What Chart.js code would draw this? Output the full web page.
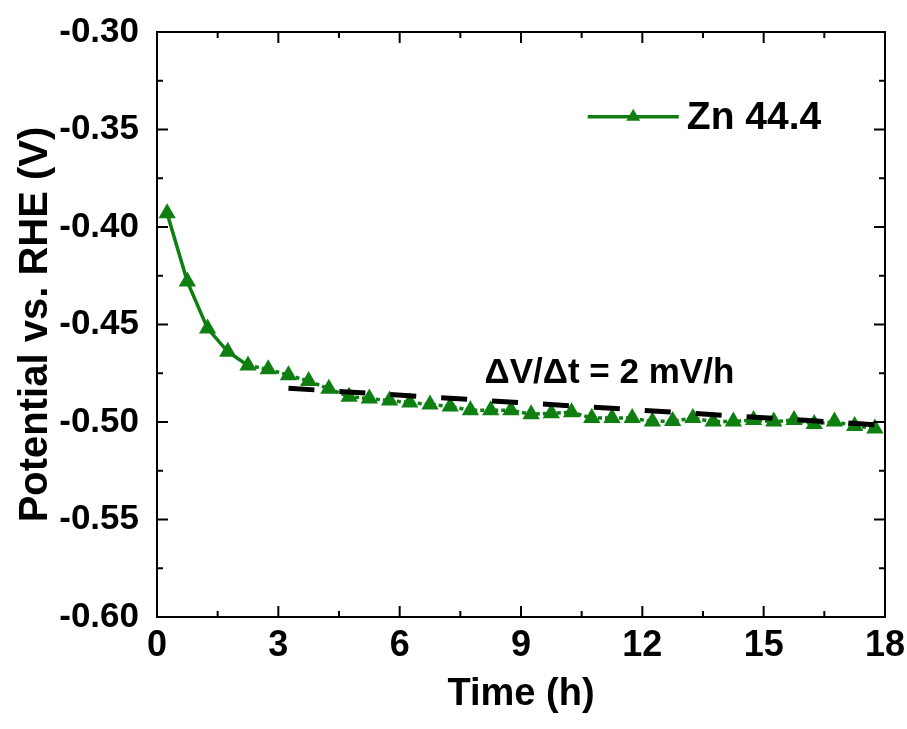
<!DOCTYPE html>
<html lang="en">
<head>
<meta charset="UTF-8">
<title>Potential vs. time</title>
<style>
  html, body { margin: 0; padding: 0; background: #fff; }
  #wrap { width: 907px; height: 729px; }
</style>
</head>
<body>
<div id="wrap"><canvas id="chart" width="907" height="729"></canvas></div>
<script src="https://cdn.jsdelivr.net/npm/chart.js"></script>
<script>
// time (h) of each measured point
const timeH = [0.25, 0.75, 1.25, 1.75, 2.25, 2.75, 3.25, 3.75, 4.25, 4.75, 5.25, 5.75,
  6.25, 6.75, 7.25, 7.75, 8.25, 8.75, 9.25, 9.75, 10.25, 10.75, 11.25, 11.75,
  12.25, 12.75, 13.25, 13.75, 14.25, 14.75, 15.25, 15.75, 16.25, 16.75, 17.25, 17.75];
// potential vs RHE (V), Zn 44.4
const potentialV = [-0.393, -0.428, -0.452, -0.464, -0.471, -0.473, -0.476, -0.479, -0.483, -0.487,
  -0.488, -0.489, -0.490, -0.491, -0.492, -0.494, -0.494, -0.494, -0.496, -0.4955,
  -0.495, -0.498, -0.498, -0.498, -0.4998, -0.4995, -0.498, -0.4998, -0.4998, -0.499,
  -0.4998, -0.499, -0.501, -0.4998, -0.502, -0.5033];
// linear fit, start and end
const fitT = [3.25, 17.85];
const fitV = [-0.4827, -0.5015];

const xTicks = [0, 3, 6, 9, 12, 15, 18];
const yTicks = [-0.60, -0.55, -0.50, -0.45, -0.40, -0.35, -0.30];

const green = '#0f7f12';
const boldFont = '"Liberation Sans", Arial, sans-serif';

// 枠と内向き目盛り
const framePlugin = {
  id: 'frame',
  afterDraw(chart) {
    const { ctx, chartArea: a, scales: { x, y } } = chart;
    ctx.save();
    ctx.strokeStyle = '#000';
    ctx.lineWidth = 2;
    ctx.strokeRect(a.left, a.top, a.right - a.left, a.bottom - a.top);
    ctx.beginPath();
    for (let i = 0; i < xTicks.length; i++) {
      const px = x.getPixelForValue(xTicks[i]);
      ctx.moveTo(px, a.bottom); ctx.lineTo(px, a.bottom - 11);
      ctx.moveTo(px, a.top); ctx.lineTo(px, a.top + 11);
      if (i < xTicks.length - 1) {
        const mx = x.getPixelForValue(xTicks[i] + 1.5);
        ctx.moveTo(mx, a.bottom); ctx.lineTo(mx, a.bottom - 6);
        ctx.moveTo(mx, a.top); ctx.lineTo(mx, a.top + 6);
      }
    }
    for (let i = 0; i < yTicks.length; i++) {
      const py = y.getPixelForValue(yTicks[i]);
      ctx.moveTo(a.left, py); ctx.lineTo(a.left + 11, py);
      ctx.moveTo(a.right, py); ctx.lineTo(a.right - 11, py);
      if (i < yTicks.length - 1) {
        const my = y.getPixelForValue(yTicks[i] + 0.025);
        ctx.moveTo(a.left, my); ctx.lineTo(a.left + 6, my);
        ctx.moveTo(a.right, my); ctx.lineTo(a.right - 6, my);
      }
    }
    ctx.stroke();

    // 注釈
    ctx.fillStyle = '#000';
    ctx.font = 'bold 35px ' + boldFont;
    ctx.textBaseline = 'middle';
    ctx.textAlign = 'left';
    ctx.fillText('\u0394V/\u0394t = 2 mV/h', x.getPixelForValue(8.1), y.getPixelForValue(-0.4752));

    // 凡例
    const ly = y.getPixelForValue(-0.3435);
    const lx0 = x.getPixelForValue(10.65), lx1 = x.getPixelForValue(12.9);
    ctx.strokeStyle = green;
    ctx.lineWidth = 3.5;
    ctx.beginPath(); ctx.moveTo(lx0, ly); ctx.lineTo(lx1, ly); ctx.stroke();
    ctx.fillStyle = green;
    ctx.beginPath();
    const r = 8, cx = (lx0 + lx1) / 2;
    ctx.moveTo(cx, ly - r); ctx.lineTo(cx + r * 0.866, ly + r * 0.5); ctx.lineTo(cx - r * 0.866, ly + r * 0.5);
    ctx.closePath(); ctx.fill();
    ctx.fillStyle = '#000';
    ctx.font = 'bold 39px ' + boldFont;
    ctx.fillText('Zn 44.4', x.getPixelForValue(13.1), ly + 1);
    ctx.restore();
  }
};

new Chart(document.getElementById('chart'), {
  type: 'scatter',
  data: {
    datasets: [
      {
        label: 'Zn 44.4',
        data: timeH.map((t, i) => ({ x: t, y: potentialV[i] })),
        showLine: true,
        borderColor: green,
        backgroundColor: green,
        borderWidth: 3.5,
        pointStyle: 'triangle',
        pointRadius: 10,
        pointBorderWidth: 0,
        pointBackgroundColor: green,
        segment: {
          borderDash: c => c.p0DataIndex >= 4 ? [4, 3] : undefined
        },
        order: 2
      },
      {
        label: 'fit',
        data: fitT.map((t, i) => ({ x: t, y: fitV[i] })),
        showLine: true,
        borderColor: '#000',
        borderWidth: 5,
        borderDash: [26, 25],
        pointRadius: 0,
        order: 1
      }
    ]
  },
  options: {
    responsive: false,
    animation: false,
    layout: { padding: { top: 32, right: 22, left: 0, bottom: 0 } },
    plugins: { legend: { display: false }, tooltip: { enabled: false } },
    scales: {
      x: {
        type: 'linear',
        min: 0, max: 18,
        grid: { display: false, drawTicks: false },
        border: { display: false },
        afterBuildTicks: s => { s.ticks = xTicks.map(v => ({ value: v })); },
        afterFit: s => { s.height = 112; s.paddingLeft = 0; s.paddingRight = 0; },
        ticks: {
          color: '#000',
          padding: 7,
          maxRotation: 0,
          font: { family: boldFont, size: 36, weight: 'bold' },
          callback: v => String(v)
        },
        title: {
          display: true,
          text: 'Time (h)',
          color: '#000',
          padding: { top: 10, bottom: 12 },
          font: { family: boldFont, size: 38, weight: 'bold' }
        }
      },
      y: {
        min: -0.60, max: -0.30,
        grid: { display: false, drawTicks: false },
        border: { display: false },
        afterBuildTicks: s => { s.ticks = yTicks.map(v => ({ value: v })); },
        afterFit: s => { s.width = 157; s.paddingTop = 0; s.paddingBottom = 0; },
        ticks: {
          color: '#000',
          padding: 18,
          font: { family: boldFont, size: 35, weight: 'bold' },
          callback: v => v.toFixed(2)
        },
        title: {
          display: true,
          text: 'Potential vs. RHE (V)',
          color: '#000',
          padding: { top: 12, bottom: 0 },
          font: { family: boldFont, size: 40, weight: 'bold' }
        }
      }
    }
  },
  plugins: [framePlugin]
});
</script>
</body>
</html>
